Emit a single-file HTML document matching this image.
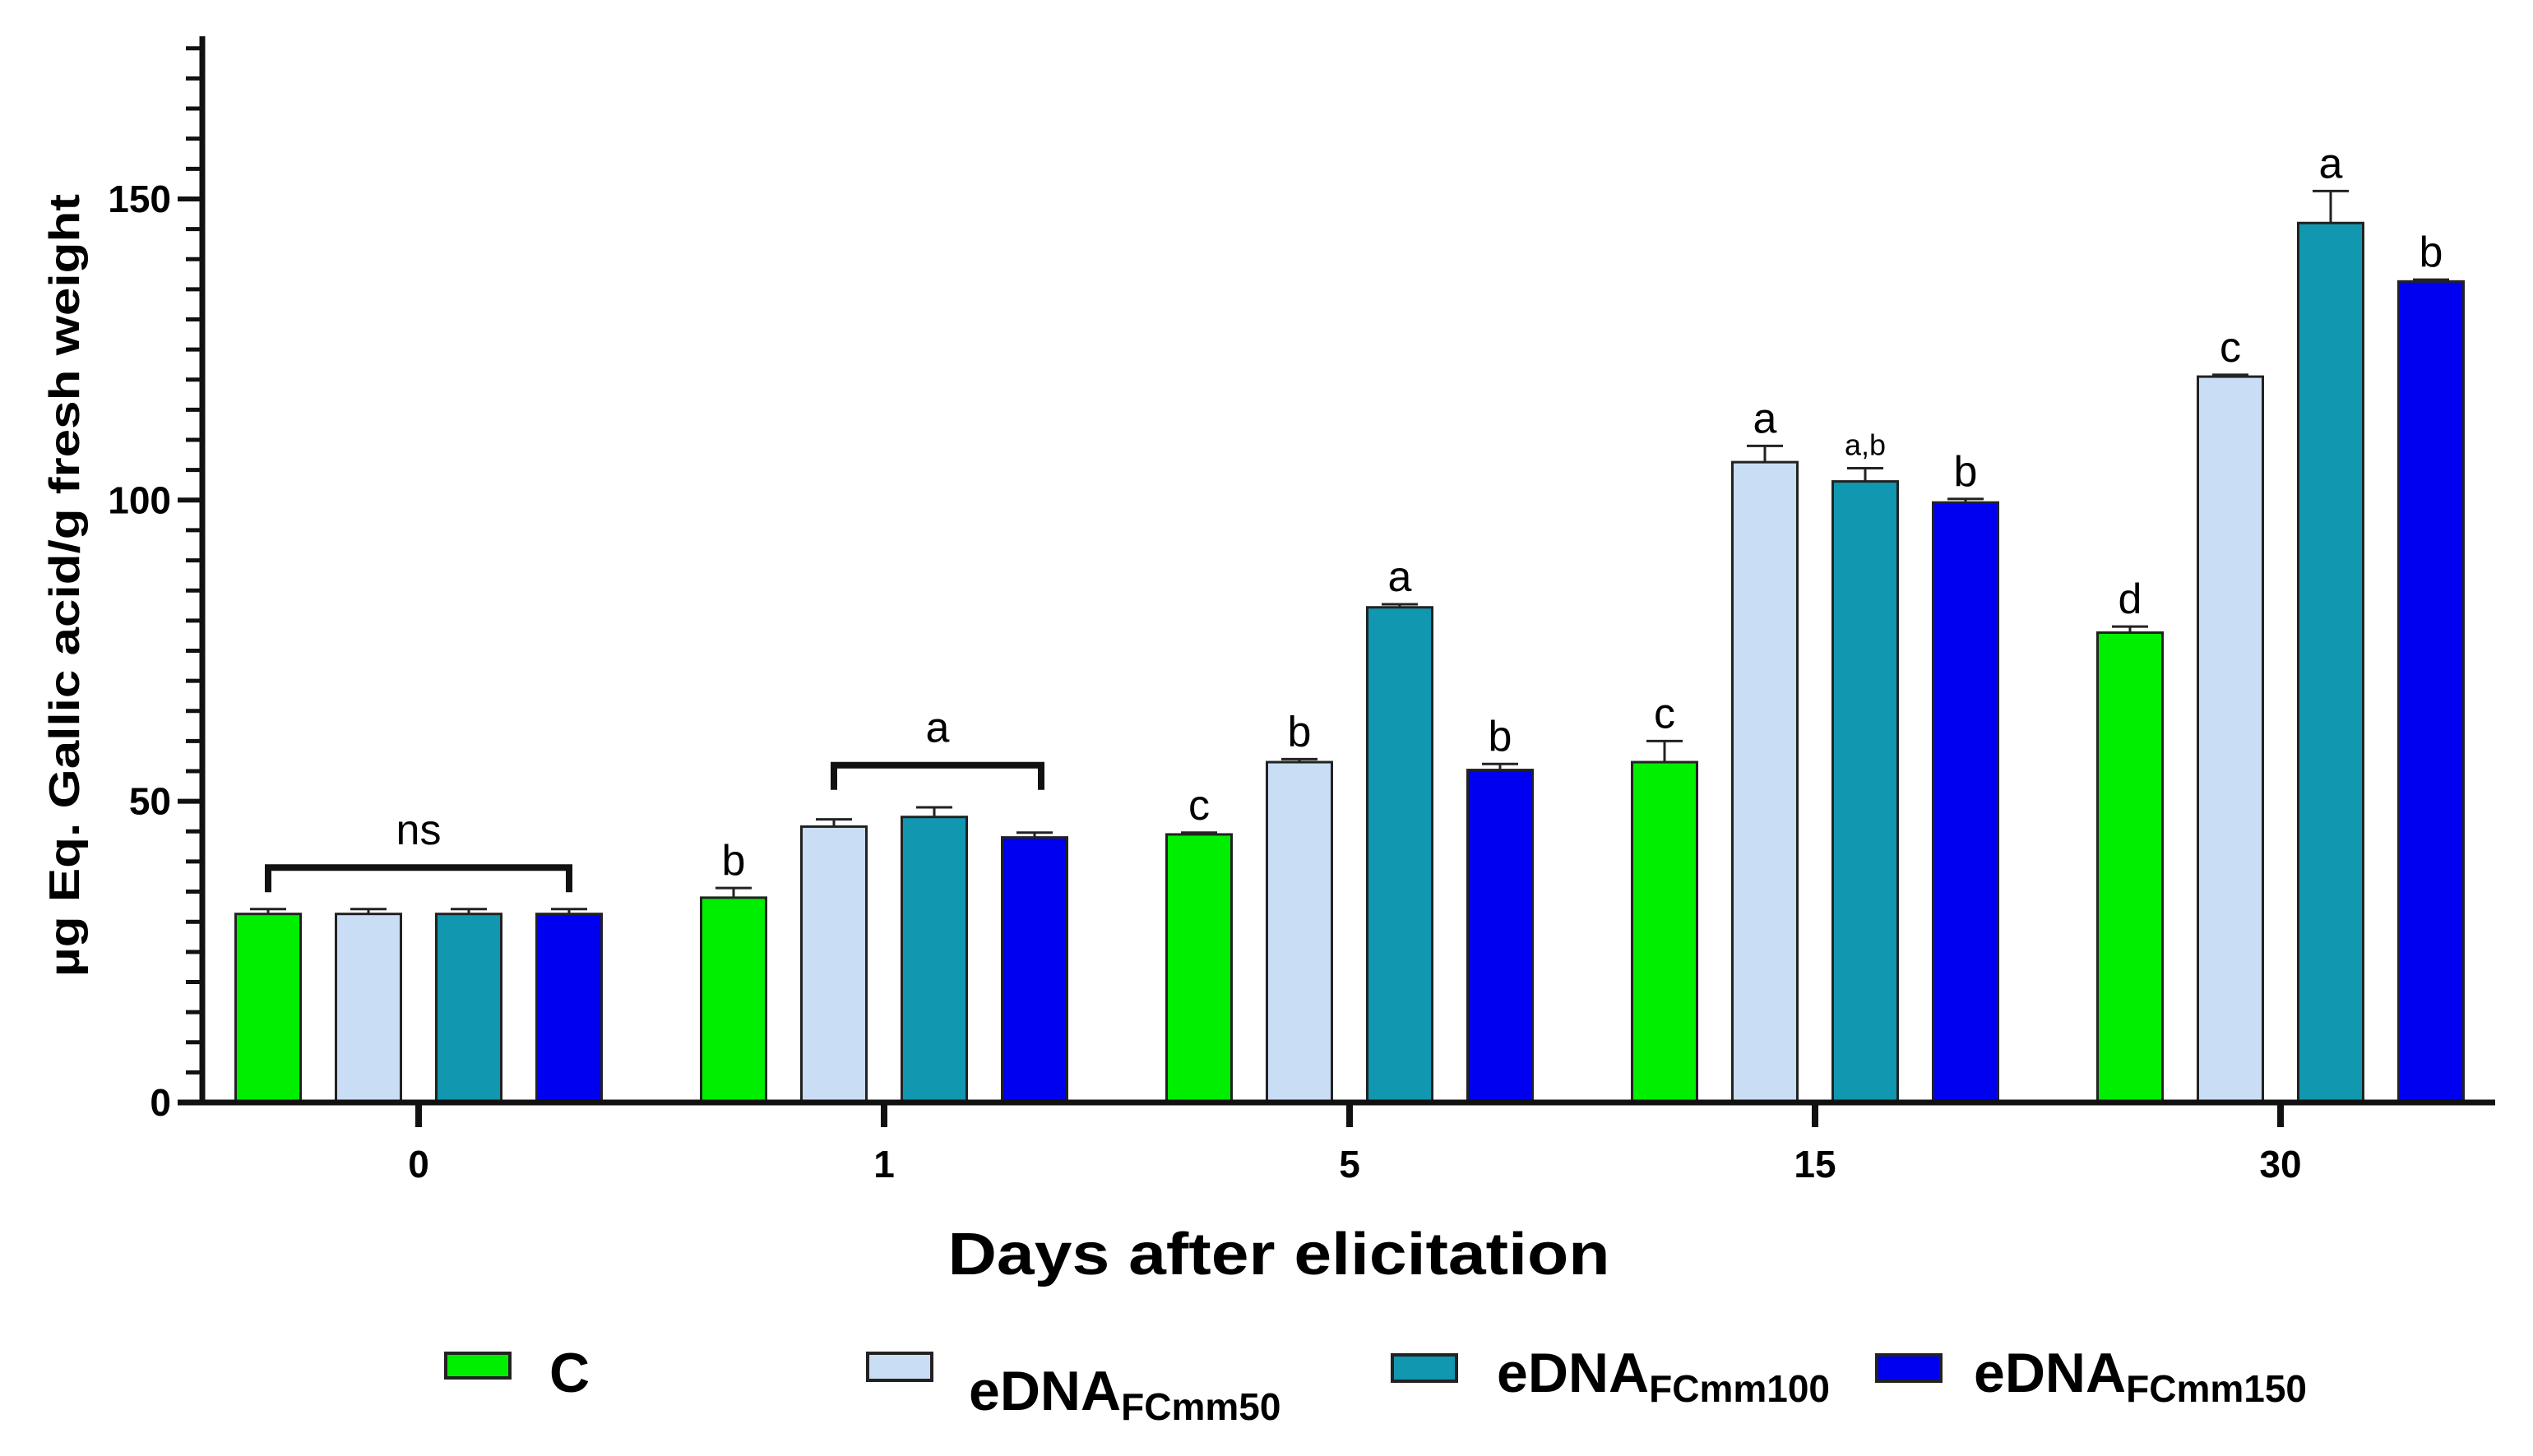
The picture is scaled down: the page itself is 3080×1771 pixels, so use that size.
<!DOCTYPE html>
<html><head><meta charset="utf-8"><style>html,body{margin:0;padding:0;background:#fff}svg{display:block}</style></head>
<body>
<svg id="chart" width="3080" height="1771" viewBox="0 0 3080 1771" xmlns="http://www.w3.org/2000/svg" font-family="Liberation Sans, sans-serif">
<g id="marks"></g>
<text transform="translate(96,712) rotate(-90)" text-anchor="middle" font-size="52" font-weight="bold" textLength="952" lengthAdjust="spacingAndGlyphs">µg Eq. Gallic acid/g fresh weight</text>
<text x="1555" y="1550" text-anchor="middle" font-size="72" font-weight="bold" textLength="805" lengthAdjust="spacingAndGlyphs">Days after elicitation</text>
<g font-weight="bold">
<rect x="542" y="1646" width="78" height="30" fill="#00ee00" stroke="#222" stroke-width="4"/>
<text x="668" y="1693" font-size="68">C</text>
<rect x="1055" y="1646" width="78" height="33" fill="#c9ddf5" stroke="#222" stroke-width="4"/>
<text x="1178" y="1715" font-size="68">eDNA<tspan font-size="46" dy="12">FCmm50</tspan></text>
<rect x="1693" y="1648" width="78" height="32" fill="#1197b0" stroke="#222" stroke-width="4"/>
<text x="1820" y="1693" font-size="68">eDNA<tspan font-size="46" dy="12">FCmm100</tspan></text>
<rect x="2282" y="1648" width="78" height="32" fill="#0000f0" stroke="#222" stroke-width="4"/>
<text x="2400" y="1693" font-size="68">eDNA<tspan font-size="46" dy="12">FCmm150</tspan></text>
</g>
</svg>
<script>
const categories = ["0", "1", "5", "15", "30"];
const seriesNames = ["C", "eDNA FCmm50", "eDNA FCmm100", "eDNA FCmm150"];
const valuesC   = [31.3, 34.0, 44.5, 56.5, 78.0];
const values50  = [31.3, 45.8, 56.5, 106.3, 120.5];
const values100 = [31.3, 47.4, 82.2, 103.1, 146.0];
const values150 = [31.3, 44.0, 55.2, 99.6, 136.3];
const errC   = [0.8, 1.6, 0.3, 3.5, 1.0];
const err50  = [0.8, 1.2, 0.5, 2.7, 0.3];
const err100 = [0.8, 1.6, 0.5, 2.2, 5.3];
const err150 = [0.8, 0.8, 1.0, 0.6, 0.3];
const lettersC   = ["", "b", "c", "c", "d"];
const letters50  = ["", "", "b", "a", "c"];
const letters100 = ["", "", "a", "a,b", "a"];
const letters150 = ["", "", "b", "b", "b"];
const yTicks = [0, 50, 100, 150];
const yMax = 177;

const NS = "http://www.w3.org/2000/svg";
const g = document.getElementById('marks');
const X0 = 246, Y0 = 1341, PX = 7.327;
const y = v => Y0 - v * PX;
const groupX = i => 509 + i * 566;
const offsets = [-183, -61, 61, 183];
const BW = 79;
const colors = ["#00ee00", "#c9ddf5", "#1197b0", "#0000f0"];
const series = [valuesC, values50, values100, values150];
const errs = [errC, err50, err100, err150];
const letters = [lettersC, letters50, letters100, letters150];
function mk(tag, attrs) { const e = document.createElementNS(NS, tag); for (const k in attrs) e.setAttribute(k, attrs[k]); g.appendChild(e); return e; }

series.forEach((vals, s) => {
  vals.forEach((v, i) => {
    const cx = groupX(i) + offsets[s];
    const top = y(v), et = y(v + errs[s][i]);
    const eb = mk('line', {x1: cx, x2: cx, y1: top, y2: et, stroke: '#222', 'stroke-width': 3});
    
    
    const cap = mk('line', {x1: cx - 22, x2: cx + 22, y1: et, y2: et, stroke: '#222', 'stroke-width': 3});
    
    
    const r = mk('rect', {x: cx - BW / 2, y: top, width: BW, height: Y0 - top, fill: colors[s], stroke: '#222', 'stroke-width': 3});
    
    
    const L = letters[s][i];
    if (L) {
      const t = mk('text', {x: cx, y: et - 16, 'text-anchor': 'middle', 'font-size': L.length > 1 ? 36 : 52});
      t.textContent = L;
      
      
    }
  });
});

function bracket(i, v, label, s0, s1, extra) {
  const x1 = groupX(i) + offsets[s0], x2 = groupX(i) + offsets[s1] + extra;
  const by = y(v);
  const p = mk('path', {d: `M${x1},${by + 30} V${by} H${x2} V${by + 30}`, fill: 'none', stroke: '#111', 'stroke-width': 8});
  
  
  const t = mk('text', {x: (x1 + x2) / 2, y: by - 28, 'text-anchor': 'middle', 'font-size': 52});
  t.textContent = label;
  
  
}
bracket(0, 39, "ns", 0, 3, 0);
bracket(1, 56, "a", 1, 3, 8);

const ya = mk('line', {x1: X0, x2: X0, y1: y(yMax), y2: Y0 + 3, stroke: '#111', 'stroke-width': 7});


const xa = mk('line', {x1: 216, x2: 3034, y1: Y0, y2: Y0, stroke: '#111', 'stroke-width': 7});


for (let v = 5; v <= 175; v += 5) {
  if (v % 50 === 0) continue;
  const t = mk('line', {x1: X0 - 20, x2: X0, y1: y(v), y2: y(v), stroke: '#111', 'stroke-width': 5});
  
  
}
yTicks.forEach(v => {
  const t = mk('line', {x1: 216, x2: X0, y1: y(v), y2: y(v), stroke: '#111', 'stroke-width': 6});
  
  
  const l = mk('text', {x: 208, y: y(v) + 16, 'text-anchor': 'end', 'font-size': 46, 'font-weight': 'bold'});
  l.textContent = String(v);
  
  
});
categories.forEach((c, i) => {
  const t = mk('line', {x1: groupX(i), x2: groupX(i), y1: Y0, y2: Y0 + 30, stroke: '#111', 'stroke-width': 8});
  
  
  const l = mk('text', {x: groupX(i), y: 1432, 'text-anchor': 'middle', 'font-size': 46, 'font-weight': 'bold'});
  l.textContent = c;
  
  
});
</script>
</body></html>
